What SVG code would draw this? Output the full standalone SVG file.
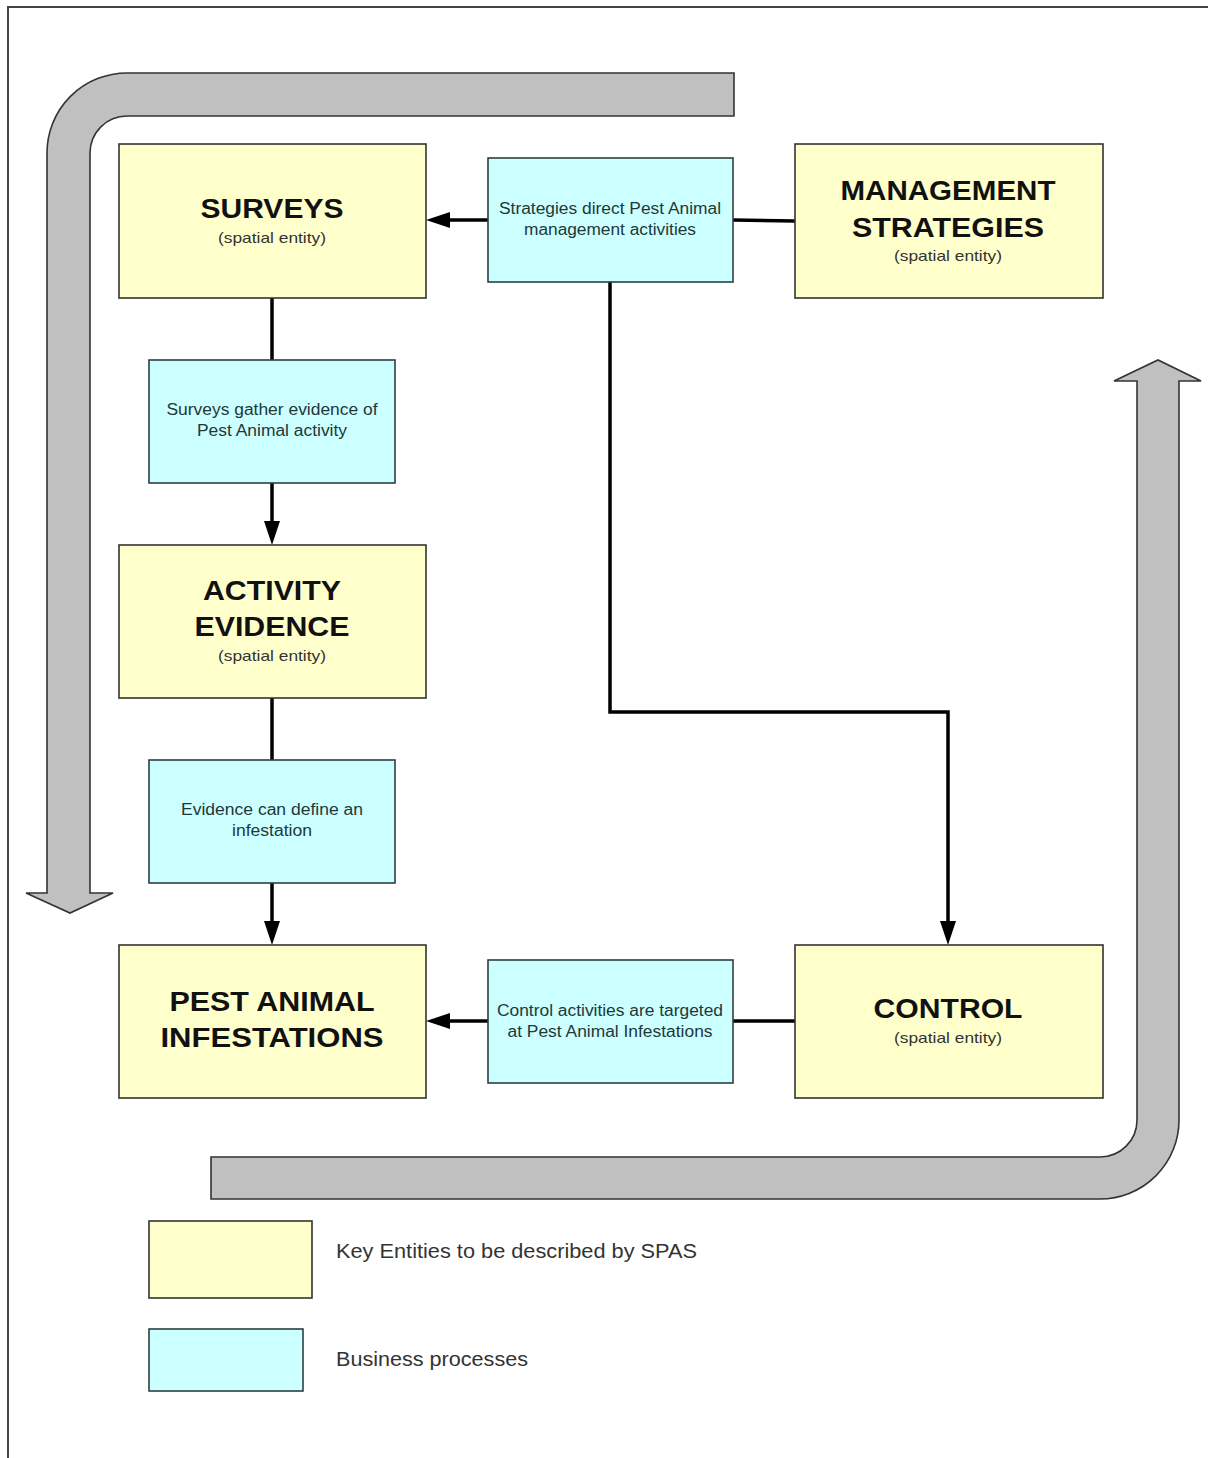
<svg xmlns="http://www.w3.org/2000/svg" width="1208" height="1458" viewBox="0 0 1208 1458">
<defs>
<style>
.entity{fill:#FFFFCC;stroke:#333;stroke-width:1.6}
.process{fill:#CCFFFF;stroke:#2f3f3f;stroke-width:1.6}
.big{fill:#C0C0C0;stroke:#333;stroke-width:1.6;stroke-linejoin:miter}
.title{font-family:"Liberation Sans",Arial,sans-serif;font-weight:bold;font-size:27px;fill:#111;text-anchor:middle}
.sub{font-family:"Liberation Sans",Arial,sans-serif;font-size:15px;fill:#333;text-anchor:middle}
.ptext{font-family:"Liberation Sans",Arial,sans-serif;font-size:16px;fill:#223838;text-anchor:middle}
.legend{font-family:"Liberation Sans",Arial,sans-serif;font-size:20px;fill:#333}
.conn{fill:none;stroke:#000;stroke-width:3.5}
</style>
<marker id="arrow" markerUnits="userSpaceOnUse" viewBox="0 0 24 16" markerWidth="24" markerHeight="16" refX="4" refY="8" orient="auto">
<path d="M0,0 L24,8 L0,16 Z" fill="#000"/>
</marker>
</defs>
<rect x="0" y="0" width="1208" height="1458" fill="#fff"/>
<polyline points="8,1458 8,7 1208,7" fill="none" stroke="#444" stroke-width="2"/>

<g id="big-arrows">
<path id="arrow-down-left" class="big" d="M734,73 L127,73 A80,80 0 0 0 47,153 L47,893 L26,893 L70,913 L113,893 L90,893 L90,153 A37,37 0 0 1 127,116 L734,116 Z"/>
<path id="arrow-up-right" class="big" d="M211,1157 L1100,1157 A37,37 0 0 0 1137,1120 L1137,381 L1114,381 L1158,360 L1201,381 L1179,381 L1179,1120 A79,79 0 0 1 1100,1199 L211,1199 Z"/>
</g>

<g id="connectors">
<line class="conn" x1="488" y1="220" x2="446" y2="220" marker-end="url(#arrow)"/>
<line class="conn" x1="733" y1="220" x2="795" y2="221"/>
<polyline class="conn" points="610,282 610,712 948,712 948,925" marker-end="url(#arrow)"/>
<line class="conn" x1="272" y1="298" x2="272" y2="360"/>
<line class="conn" x1="272" y1="483" x2="272" y2="525" marker-end="url(#arrow)"/>
<line class="conn" x1="272" y1="698" x2="272" y2="760"/>
<line class="conn" x1="272" y1="883" x2="272" y2="925" marker-end="url(#arrow)"/>
<line class="conn" x1="733" y1="1021" x2="795" y2="1021"/>
<line class="conn" x1="488" y1="1021" x2="446" y2="1021" marker-end="url(#arrow)"/>
</g>

<g id="surveys">
<rect class="entity" x="119" y="144" width="307" height="154"/>
<text class="title" x="272" y="218" textLength="143" lengthAdjust="spacingAndGlyphs">SURVEYS</text>
<text class="sub" x="272" y="243" textLength="108" lengthAdjust="spacingAndGlyphs">(spatial entity)</text>
</g>

<g id="strategies-direct">
<rect class="process" x="488" y="158" width="245" height="124"/>
<text class="ptext" x="610" y="214" textLength="222" lengthAdjust="spacingAndGlyphs">Strategies direct Pest Animal</text>
<text class="ptext" x="610" y="235" textLength="172" lengthAdjust="spacingAndGlyphs">management activities</text>
</g>

<g id="management-strategies">
<rect class="entity" x="795" y="144" width="308" height="154"/>
<text class="title" x="948" y="200" textLength="215" lengthAdjust="spacingAndGlyphs">MANAGEMENT</text>
<text class="title" x="948" y="237" textLength="192" lengthAdjust="spacingAndGlyphs">STRATEGIES</text>
<text class="sub" x="948" y="261" textLength="108" lengthAdjust="spacingAndGlyphs">(spatial entity)</text>
</g>

<g id="surveys-gather">
<rect class="process" x="149" y="360" width="246" height="123"/>
<text class="ptext" x="272" y="415" textLength="211" lengthAdjust="spacingAndGlyphs">Surveys gather evidence of</text>
<text class="ptext" x="272" y="436" textLength="150" lengthAdjust="spacingAndGlyphs">Pest Animal activity</text>
</g>

<g id="activity-evidence">
<rect class="entity" x="119" y="545" width="307" height="153"/>
<text class="title" x="272" y="600" textLength="138" lengthAdjust="spacingAndGlyphs">ACTIVITY</text>
<text class="title" x="272" y="636" textLength="155" lengthAdjust="spacingAndGlyphs">EVIDENCE</text>
<text class="sub" x="272" y="661" textLength="108" lengthAdjust="spacingAndGlyphs">(spatial entity)</text>
</g>

<g id="evidence-define">
<rect class="process" x="149" y="760" width="246" height="123"/>
<text class="ptext" x="272" y="815" textLength="182" lengthAdjust="spacingAndGlyphs">Evidence can define an</text>
<text class="ptext" x="272" y="836" textLength="80" lengthAdjust="spacingAndGlyphs">infestation</text>
</g>

<g id="pest-animal-infestations">
<rect class="entity" x="119" y="945" width="307" height="153"/>
<text class="title" x="272" y="1011" textLength="205" lengthAdjust="spacingAndGlyphs">PEST ANIMAL</text>
<text class="title" x="272" y="1047" textLength="223" lengthAdjust="spacingAndGlyphs">INFESTATIONS</text>
</g>

<g id="control-targeted">
<rect class="process" x="488" y="960" width="245" height="123"/>
<text class="ptext" x="610" y="1016" textLength="226" lengthAdjust="spacingAndGlyphs">Control activities are targeted</text>
<text class="ptext" x="610" y="1037" textLength="205" lengthAdjust="spacingAndGlyphs">at Pest Animal Infestations</text>
</g>

<g id="control">
<rect class="entity" x="795" y="945" width="308" height="153"/>
<text class="title" x="948" y="1018" textLength="149" lengthAdjust="spacingAndGlyphs">CONTROL</text>
<text class="sub" x="948" y="1043" textLength="108" lengthAdjust="spacingAndGlyphs">(spatial entity)</text>
</g>

<g id="legend">
<rect class="entity" x="149" y="1221" width="163" height="77"/>
<text class="legend" x="336" y="1258" textLength="361" lengthAdjust="spacingAndGlyphs">Key Entities to be described by SPAS</text>
<rect class="process" x="149" y="1329" width="154" height="62"/>
<text class="legend" x="336" y="1366" textLength="192" lengthAdjust="spacingAndGlyphs">Business processes</text>
</g>
</svg>
